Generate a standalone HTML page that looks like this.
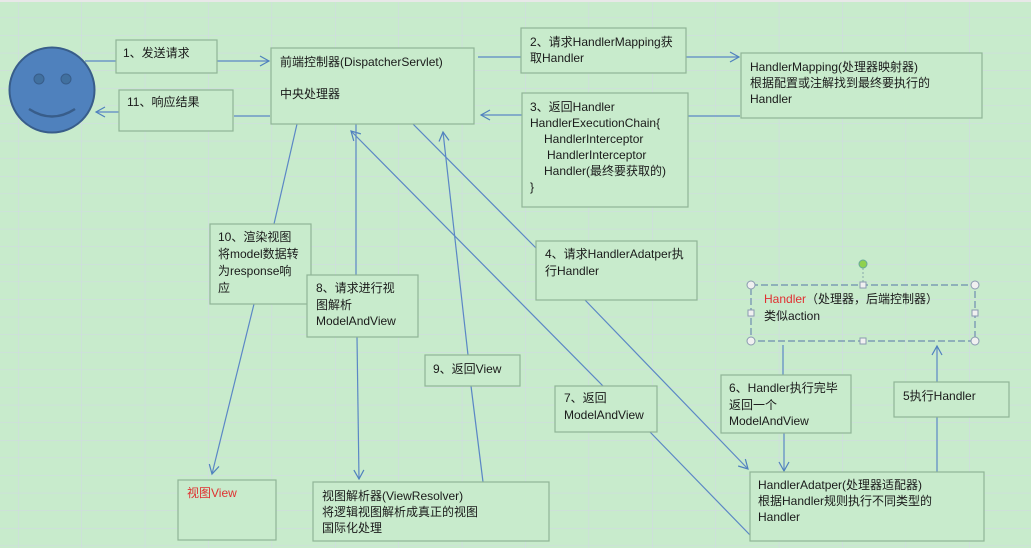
<!DOCTYPE html>
<html><head><meta charset="utf-8"><style>
html,body{margin:0;padding:0;}
body{width:1031px;height:548px;overflow:hidden;background:#c8ebcc;}
svg{display:block;font-family:"Liberation Sans","Noto Sans CJK SC",sans-serif;}
</style></head><body>
<svg width="1031" height="548" viewBox="0 0 1031 548" xmlns="http://www.w3.org/2000/svg">
<defs>
<pattern id="g" x="18" y="0" width="63.4" height="17.6" patternUnits="userSpaceOnUse">
<rect width="63.4" height="17.6" fill="#c8ebcc"/>
<line x1="0" y1="0" x2="0" y2="17.6" stroke="#d2d7e6" stroke-width="1"/>
<line x1="0" y1="0" x2="63.4" y2="0" stroke="#d2d7e6" stroke-width="1"/>
</pattern>
<marker id="a" markerWidth="12" markerHeight="12" refX="10" refY="6" orient="auto" markerUnits="userSpaceOnUse">
<path d="M1,1 L10,6 L1,11" fill="none" stroke="#4f81bd" stroke-width="1.2"/>
</marker>
</defs>
<rect width="1031" height="548" fill="url(#g)"/>
<rect x="0" y="0" width="1031" height="2" fill="#e8e8e8"/>
<g stroke="#5b87c5" stroke-width="1.2" fill="none">
<line x1="85" y1="61" x2="116" y2="61"/>
<line x1="217" y1="61" x2="269" y2="61" marker-end="url(#a)"/>
<line x1="270" y1="116" x2="234" y2="116"/>
<line x1="119" y1="112" x2="96" y2="112" marker-end="url(#a)"/>
<line x1="478" y1="57" x2="521" y2="57"/>
<line x1="686" y1="57" x2="739" y2="57" marker-end="url(#a)"/>
<line x1="740" y1="116" x2="688" y2="116"/>
<line x1="522" y1="115" x2="481" y2="115" marker-end="url(#a)"/>
<line x1="411" y1="122" x2="536" y2="248"/>
<line x1="585" y1="300" x2="748" y2="469" marker-end="url(#a)"/>
<line x1="750" y1="535" x2="650" y2="432"/>
<line x1="603" y1="386" x2="351" y2="131" marker-end="url(#a)"/>
<line x1="783" y1="345" x2="783" y2="375"/>
<line x1="784" y1="433" x2="784" y2="471" marker-end="url(#a)"/>
<line x1="937" y1="472" x2="937" y2="417"/>
<line x1="937" y1="382" x2="937" y2="346" marker-end="url(#a)"/>
<line x1="356" y1="124" x2="356" y2="275"/>
<line x1="357" y1="337" x2="359" y2="479" marker-end="url(#a)"/>
<line x1="483" y1="482" x2="471" y2="386"/>
<line x1="468" y1="355" x2="443" y2="132" marker-end="url(#a)"/>
<line x1="297" y1="124" x2="274" y2="224"/>
<line x1="254" y1="304" x2="212" y2="474" marker-end="url(#a)"/>
</g>
<circle cx="52" cy="90" r="42.5" fill="#4f81bd" stroke="#385d8a" stroke-width="2"/>
<circle cx="39" cy="79" r="5" fill="#41709f" stroke="#385d8a"/>
<circle cx="66" cy="79" r="5" fill="#41709f" stroke="#385d8a"/>
<path d="M29,109 Q52,124 75,109" fill="none" stroke="#385d8a" stroke-width="2.5"/>
<g fill="#c8ebcc" stroke="#8fb596" stroke-width="1.2">
<rect x="116" y="40" width="101" height="33"/>
<rect x="119" y="90" width="114" height="41"/>
<rect x="271" y="48" width="203" height="76"/>
<rect x="521" y="28" width="165" height="45"/>
<rect x="741" y="53" width="241" height="65"/>
<rect x="522" y="93" width="166" height="114"/>
<rect x="536" y="241" width="161" height="59"/>
<rect x="721" y="375" width="130" height="58"/>
<rect x="894" y="382" width="115" height="35"/>
<rect x="750" y="472" width="234" height="69"/>
<rect x="555" y="386" width="102" height="46"/>
<rect x="210" y="224" width="101" height="80"/>
<rect x="307" y="275" width="111" height="62"/>
<rect x="425" y="355" width="95" height="31"/>
<rect x="178" y="480" width="98" height="60"/>
<rect x="313" y="482" width="236" height="59"/>
</g>
<rect x="751" y="285" width="224" height="56" fill="none" stroke="#6d8db0" stroke-width="1.2" stroke-dasharray="7,3"/>
<line x1="863" y1="268" x2="863" y2="285" stroke="#8aa" stroke-dasharray="2,2"/>
<circle cx="863" cy="264" r="4" fill="#8fd14f" stroke="#6a9"/>
<g fill="#f0f0f0" stroke="#8a9ab0">
<circle cx="751" cy="285" r="4"/><circle cx="975" cy="285" r="4"/>
<circle cx="751" cy="341" r="4"/><circle cx="975" cy="341" r="4"/>
<rect x="860" y="282" width="6" height="6"/><rect x="860" y="338" width="6" height="6"/>
<rect x="748" y="310" width="6" height="6"/><rect x="972" y="310" width="6" height="6"/>
</g>
<g font-size="12" fill="#1a1a1a">
<text x="123" y="57">1、发送请求</text>
<text x="127" y="106">11、响应结果</text>
<text x="280" y="66">前端控制器(DispatcherServlet)</text>
<text x="280" y="98">中央处理器</text>
<text x="530" y="46">2、请求HandlerMapping获</text>
<text x="530" y="62">取Handler</text>
<text x="750" y="71">HandlerMapping(处理器映射器)</text>
<text x="750" y="87">根据配置或注解找到最终要执行的</text>
<text x="750" y="103">Handler</text>
<text x="530" y="111">3、返回Handler</text>
<text x="530" y="127">HandlerExecutionChain{</text>
<text x="544" y="143">HandlerInterceptor</text>
<text x="547" y="159">HandlerInterceptor</text>
<text x="544" y="175">Handler(最终要获取的)</text>
<text x="530" y="191">}</text>
<text x="545" y="258">4、请求HandlerAdatper执</text>
<text x="545" y="275">行Handler</text>
<text x="764" y="303"><tspan fill="#e03030">Handler</tspan>（处理器，后端控制器）</text>
<text x="764" y="320">类似action</text>
<text x="729" y="392">6、Handler执行完毕</text>
<text x="729" y="409">返回一个</text>
<text x="729" y="425">ModelAndView</text>
<text x="903" y="400">5执行Handler</text>
<text x="758" y="489">HandlerAdatper(处理器适配器)</text>
<text x="758" y="505">根据Handler规则执行不同类型的</text>
<text x="758" y="521">Handler</text>
<text x="564" y="402">7、返回</text>
<text x="564" y="419">ModelAndView</text>
<text x="218" y="241">10、渲染视图</text>
<text x="218" y="258">将model数据转</text>
<text x="218" y="275">为response响</text>
<text x="218" y="292">应</text>
<text x="316" y="292">8、请求进行视</text>
<text x="316" y="309">图解析</text>
<text x="316" y="325">ModelAndView</text>
<text x="433" y="373">9、返回View</text>
<text x="187" y="497" fill="#e03030">视图View</text>
<text x="322" y="500">视图解析器(ViewResolver)</text>
<text x="322" y="516">将逻辑视图解析成真正的视图</text>
<text x="322" y="532">国际化处理</text>
</g>
</svg>
</body></html>
